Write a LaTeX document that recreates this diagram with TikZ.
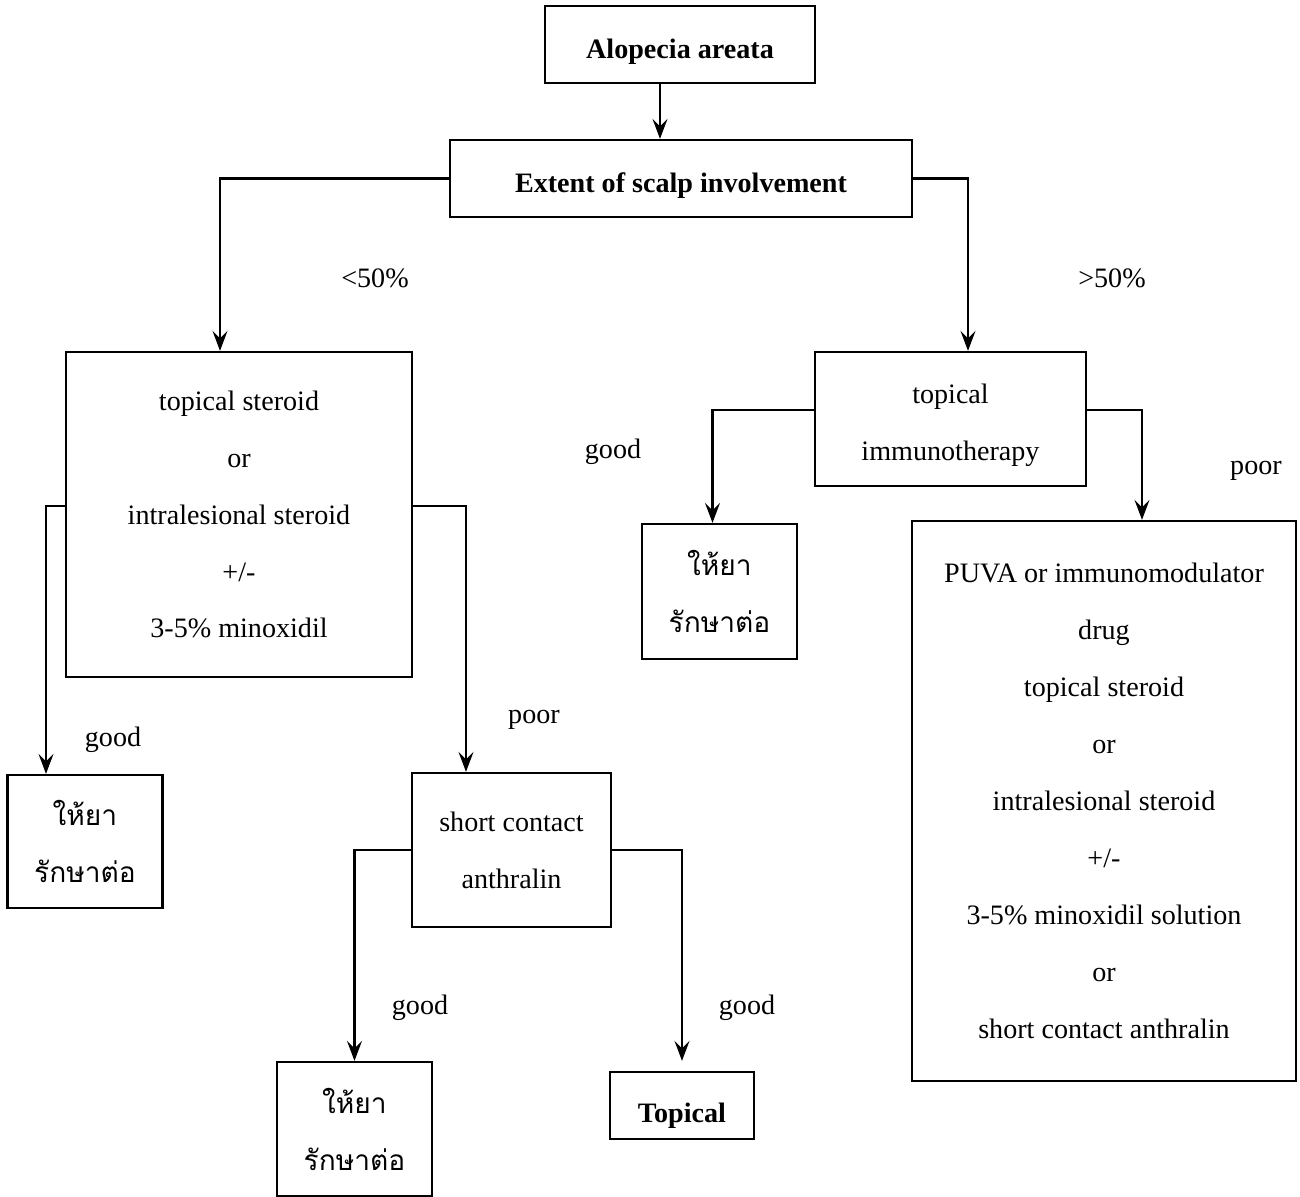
\documentclass[tikz,border=0pt]{standalone}
\usepackage{fontspec}
\setmainfont{Liberation Serif}
\newfontfamily\thaifont[Script=Thai]{Loma}
\usetikzlibrary{arrows.meta}

\begin{document}
\begin{tikzpicture}[
    every node/.style={font=\fontsize{16}{32.4}\selectfont},
    flowbox/.style={draw, line width=1.3pt, align=center, inner sep=0pt},
    boldbox/.style={flowbox, text height=16pt, text depth=0pt,
      font=\fontsize{16}{32.4}\selectfont\bfseries},
    thaibox/.style={flowbox, minimum width=3.1cm, minimum height=2.68cm,
      font=\thaifont\fontsize{16}{32.4}\selectfont},
    lbl/.style={inner sep=0pt},
    flow/.style={line width=1.3pt, -{Stealth[length=4mm,width=3mm,inset=1.5mm]}}]
  \useasboundingbox (0,0) rectangle (26,-23.94);

  % top of the chart
  \node[boldbox, minimum width=5.4cm, minimum height=1.54cm] (alop) at (13.6,-0.89) {Alopecia areata};
  \node[boldbox, minimum width=9.24cm, minimum height=1.54cm] (ext) at (13.62,-3.57) {Extent of scalp involvement};

  % <50% side
  \node[flowbox, minimum width=6.92cm, minimum height=6.5cm] (treat) at (4.78,-10.29)
    {topical steroid\\ or\\ intralesional steroid\\ +/-\\ 3-5\% minoxidil};
  \node[thaibox, minimum height=2.66cm] (contA) at (1.7,-16.83) {ให้ยา\\ รักษาต่อ};
  \node[flowbox, minimum width=3.98cm, minimum height=3.08cm] (sca) at (10.23,-17.0)
    {short contact\\ anthralin};
  \node[thaibox] (contB) at (7.09,-22.58) {ให้ยา\\ รักษาต่อ};
  \node[boldbox, text height=19pt, minimum width=2.88cm, minimum height=1.34cm] (topi) at (13.64,-22.11) {Topical};

  % >50% side
  \node[flowbox, text height=51pt, minimum width=5.42cm, minimum height=2.68cm] (immuno) at (19.01,-8.38)
    {topical\\ immunotherapy};
  \node[thaibox, minimum height=2.7cm] (contC) at (14.39,-11.83) {ให้ยา\\ รักษาต่อ};
  \node[flowbox, minimum width=7.68cm, minimum height=11.2cm] (puva) at (22.08,-16.02)
    {PUVA or immunomodulator\\ drug\\ topical steroid\\ or\\ intralesional steroid\\ +/-\\
     3-5\% minoxidil solution\\ or\\ short contact anthralin};

  % labels
  \node[lbl] (lt) at (7.5,-5.56) {<50\%};
  \node[lbl] (gt) at (22.24,-5.56) {>50\%};
  \node[lbl] (goodA) at (2.26,-14.8) {good};
  \node[lbl] (poorA) at (10.68,-14.4) {poor};
  \node[lbl] (goodC) at (12.26,-9.04) {good};
  \node[lbl] (poorC) at (25.12,-9.42) {poor};
  \node[lbl] (goodB) at (8.4,-20.16) {good};
  \node[lbl] (goodD) at (14.94,-20.16) {good};

  \draw[flow] ([xshift=-4mm]alop.south) -- ([xshift=-4mm]alop.south |- ext.north);
  \draw[flow] (ext.west) -| ([xshift=-3.8mm]treat.north);
  \draw[flow] (ext.east) -| ([xshift=3.5mm]immuno.north);
  \draw[flow] ([yshift=1.7mm]treat.west) -| ([xshift=-7.8mm]contA.north);
  \draw[flow] ([yshift=1.7mm]treat.east) -| ([xshift=-9.1mm]sca.north);
  \draw[flow] (sca.west) -| (contB.north);
  \draw[flow, shorten >=2mm] (sca.east) -| (topi.north);
  \draw[flow] ([yshift=1.8mm]immuno.west) -| ([xshift=-1.4mm]contC.north);
  \draw[flow] ([yshift=1.8mm]immuno.east) -| ([xshift=7.6mm]puva.north);
\end{tikzpicture}
\end{document}
